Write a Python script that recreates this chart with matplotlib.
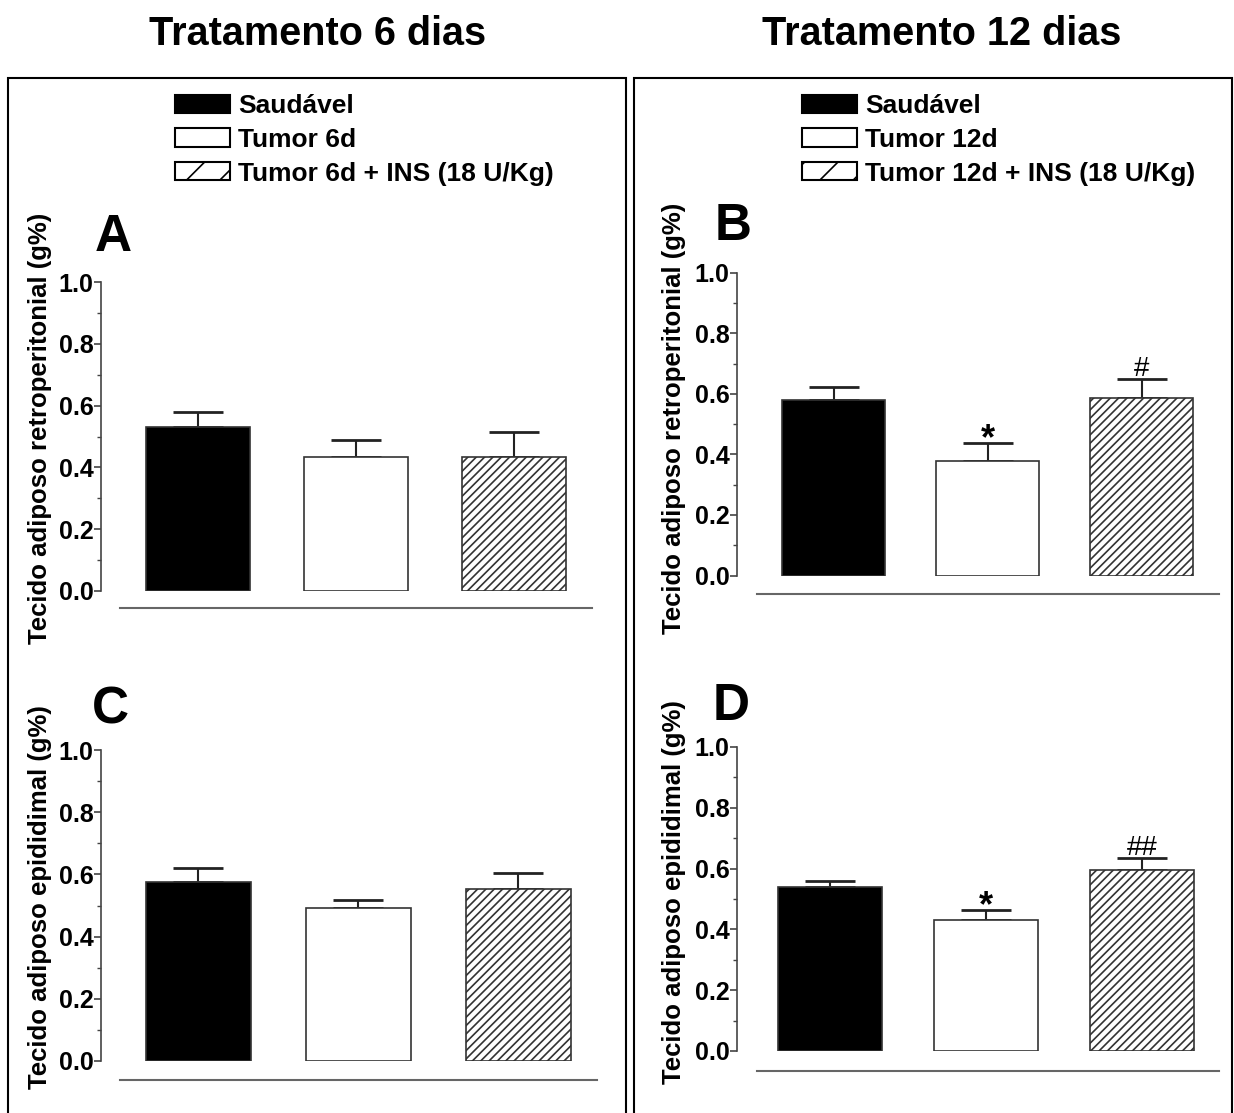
import numpy as np
import matplotlib
matplotlib.use('Agg')
import matplotlib.pyplot as plt
from matplotlib.patches import Patch, Rectangle

plt.rcParams['font.family'] = ['Liberation Sans', 'DejaVu Sans']
plt.rcParams['hatch.linewidth'] = 1.2

W, H = 1234, 1113  # figure size in pixels

# ---- data (g%) ----
ret_6d = [0.530, 0.434, 0.434]
ret_6d_err = [0.049, 0.055, 0.081]
ret_12d = [0.579, 0.380, 0.588]
ret_12d_err = [0.045, 0.057, 0.063]
epi_6d = [0.575, 0.493, 0.554]
epi_6d_err = [0.044, 0.026, 0.049]
epi_12d = [0.540, 0.432, 0.597]
epi_12d_err = [0.018, 0.031, 0.039]

# significance marks above bars (index, text)
marks_ret_12d = [(1, '*'), (2, '#')]
marks_epi_12d = [(1, '*'), (2, '##')]

legend_6d = ['Saudável', 'Tumor 6d', 'Tumor 6d + INS (18 U/Kg)']
legend_12d = ['Saudável', 'Tumor 12d', 'Tumor 12d + INS (18 U/Kg)']

ylabel_ret = 'Tecido adiposo retroperitonial (g%)'
ylabel_epi = 'Tecido adiposo epididimal (g%)'

face = ['black', 'white', 'white']
hatches = ['', '', '////']


def fx(x):
    return x / W


def fy(y):
    return 1 - y / H


fig = plt.figure(figsize=(W / 100, H / 100), dpi=100)

# outer frames
for x0, x1 in [(8, 626), (634, 1232)]:
    fig.add_artist(Rectangle((fx(x0), fy(1125)), fx(x1) - fx(x0), fy(78) - fy(1125),
                             transform=fig.transFigure, fill=False,
                             edgecolor='black', linewidth=1.5, clip_on=False))

# titles
fig.text(fx(318), fy(45), 'Tratamento 6 dias', ha='center', va='baseline',
         fontsize=28.5, fontweight='bold')
fig.text(fx(942), fy(45), 'Tratamento 12 dias', ha='center', va='baseline',
         fontsize=28.5, fontweight='bold')


def panel(vals, errs, axis_x, y0, y1, c0, sp, bw, bl, bly, letter, lpos,
          ylabel, ylpos, marks=()):
    right = bl[1] + 6
    ax = fig.add_axes([fx(axis_x), fy(y0), fx(right) - fx(axis_x), (y0 - y1) / H])
    x = np.arange(len(vals))
    ax.errorbar(x, vals, yerr=[np.zeros(len(errs)), errs], fmt='none',
                ecolor='#222222', elinewidth=1.5, capsize=18, capthick=2, zorder=1)
    ax.bar(x, vals, bw / sp, color=face, edgecolor='#333333', linewidth=1.2,
           hatch=hatches, zorder=2)
    ax.set_xlim((axis_x - c0) / sp, (right - c0) / sp)
    ax.set_ylim(0, 1.0)
    ax.set_yticks(np.arange(0, 1.01, 0.2))
    ax.set_yticks(np.arange(0.1, 1.0, 0.2), minor=True)
    ax.set_yticklabels(['%.1f' % v for v in np.arange(0, 1.01, 0.2)],
                       fontsize=18, fontweight='bold')
    ax.tick_params(axis='y', which='major', length=5, width=1.2, pad=0.5, color='#444444')
    ax.tick_params(axis='y', which='minor', length=3, width=1.0, color='#444444')
    ax.set_xticks([])
    ax.spines['top'].set_visible(False)
    ax.spines['right'].set_visible(False)
    ax.spines['left'].set_color('#444444')
    ax.spines['left'].set_linewidth(1.2)
    ax.spines['bottom'].set_color('#666666')
    ax.spines['bottom'].set_linewidth(1.5)
    ax.spines['bottom'].set_position(('outward', (bly - y0) * 0.72))
    ax.spines['bottom'].set_bounds((bl[0] - c0) / sp, (bl[1] - c0) / sp)
    ax.patch.set_alpha(0)

    for i, t in marks:
        top = vals[i] + errs[i]
        if t == '*':
            ax.annotate(t, (i, top), xytext=(0, -4), textcoords='offset points',
                        ha='center', va='baseline', fontsize=26, fontweight='bold')
        else:
            ax.annotate(t, (i, top), xytext=(0, 2), textcoords='offset points',
                        ha='center', va='baseline', fontsize=20)

    fig.text(fx(lpos[0]), fy(lpos[1]), letter, ha='center', va='baseline',
             fontsize=37, fontweight='bold')
    fig.text(fx(ylpos[0]), fy(ylpos[1]), ylabel, ha='center', va='center',
             rotation=90, fontsize=18.5, fontweight='bold')
    return ax


panel(ret_6d, ret_6d_err, 101, 591, 282, 198, 158, 104, (120, 592), 608,
      'A', (113, 251), ylabel_ret, (40, 428))
panel(ret_12d, ret_12d_err, 737, 575.5, 273, 833.5, 154, 103, (757, 1219), 594,
      'B', (733, 240), ylabel_ret, (674, 418), marks_ret_12d)
panel(epi_6d, epi_6d_err, 101, 1061, 750, 198, 160, 105, (120, 597), 1080,
      'C', (110, 723), ylabel_epi, (40, 897))
panel(epi_12d, epi_12d_err, 737, 1051, 747, 830, 156, 104, (757, 1219), 1071,
      'D', (731, 720), ylabel_epi, (674, 892), marks_epi_12d)

# legends
fs_leg = 19
fpx = fs_leg / 72 * 100
for labels, x0 in [(legend_6d, 175), (legend_12d, 802)]:
    handles = [Patch(facecolor='black', edgecolor='black', linewidth=1.5),
               Patch(facecolor='white', edgecolor='black', linewidth=1.5),
               Patch(facecolor='white', edgecolor='black', linewidth=1.5, hatch='/')]
    fig.legend(handles, labels, loc='upper left', bbox_to_anchor=(fx(x0), fy(94)),
               frameon=False, borderpad=0, borderaxespad=0,
               handlelength=55 / fpx, handleheight=18 / fpx,
               handletextpad=8 / fpx, labelspacing=0.37,
               prop={'size': fs_leg, 'weight': 'bold'})

fig.savefig('out.png', dpi=100)
